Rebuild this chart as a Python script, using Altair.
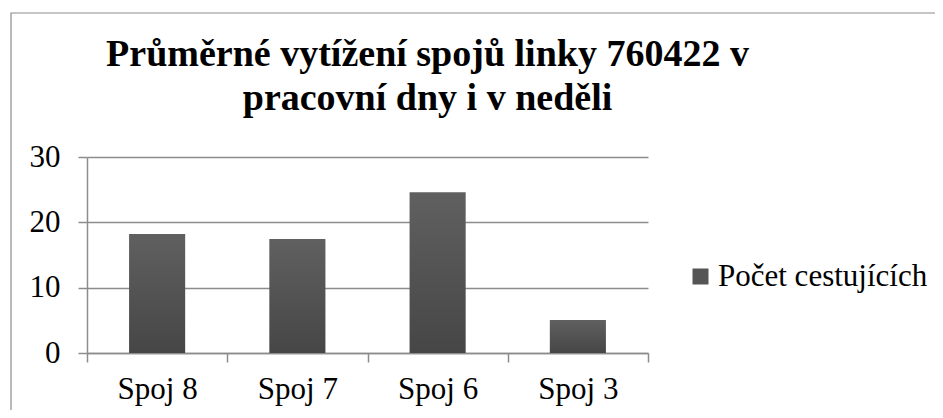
import altair as alt
import pandas as pd

categories = ["Spoj 8", "Spoj 7", "Spoj 6", "Spoj 3"]
values = [18.2, 17.45, 24.6, 5.05]
series_name = "Počet cestujících"
title_lines = ["Průměrné vytížení spojů linky 760422 v", "pracovní dny i v neděli"]
y_ticks = [0, 10, 20, 30]

df = pd.DataFrame({"spoj": categories, "pocet": values, "serie": [series_name] * len(categories)})
frame_df = pd.DataFrame({"k": [0]})

FONT = "Liberation Serif, Times New Roman, serif"
GRAY = "#8c8c8c"

grad = alt.LinearGradient(
    gradient="linear",
    stops=[alt.GradientStop(color="#606060", offset=0), alt.GradientStop(color="#464646", offset=1)],
    x1=0, x2=0, y1=0, y2=1,
)

frame = alt.Chart(frame_df).mark_rect(filled=False, stroke=GRAY, strokeWidth=1.2).encode(
    x=alt.value(-76), x2=alt.value(1000), y=alt.value(-144), y2=alt.value(400)
)

bars = alt.Chart(df).mark_bar(fill=grad, width=alt.RelativeBandSize(0.4)).encode(
    x=alt.X(
        "spoj:N",
        sort=categories,
        scale=alt.Scale(paddingInner=0, paddingOuter=0),
        axis=alt.Axis(
            title=None, labelAngle=0, tickBand="extent", tickSize=9, grid=False,
            domainColor=GRAY, tickColor=GRAY, domainWidth=1.5, tickWidth=1.5,
            labelPadding=12,
        ),
    ),
    y=alt.Y(
        "pocet:Q",
        scale=alt.Scale(domain=[0, 30]),
        axis=alt.Axis(
            title=None, values=y_ticks, tickSize=9, grid=True, gridColor=GRAY, gridWidth=1.5,
            domainColor=GRAY, tickColor=GRAY, domainWidth=1.5, tickWidth=1.5, labelPadding=18,
        ),
    ),
    color=alt.Color(
        "serie:N",
        scale=alt.Scale(range=["#555555"]),
        legend=alt.Legend(
            title=None, orient="none", legendX=598, legendY=104, symbolType="square",
            symbolSize=256, symbolStrokeWidth=0, labelFont=FONT, labelFontSize=31,
            labelColor="black", labelOffset=2, labelLimit=400,
        ),
    ),
)

chart = (
    alt.layer(frame, bars)
    .properties(
        width=561,
        height=196,
        autosize=alt.AutoSizeParams(type="none"),
        padding={"left": 79, "top": 149, "right": 287, "bottom": 57},
        title=alt.TitleParams(
            text=title_lines, font=FONT, fontSize=38, fontWeight="bold", color="black",
            lineHeight=44, anchor="middle", dx=60, offset=-106,
        ),
    )
    .configure_view(stroke=None)
    .configure_axis(labelFont=FONT, labelFontSize=31, labelColor="black")
)

chart.save("out.html", embed_options={"renderer": "svg", "actions": False})
